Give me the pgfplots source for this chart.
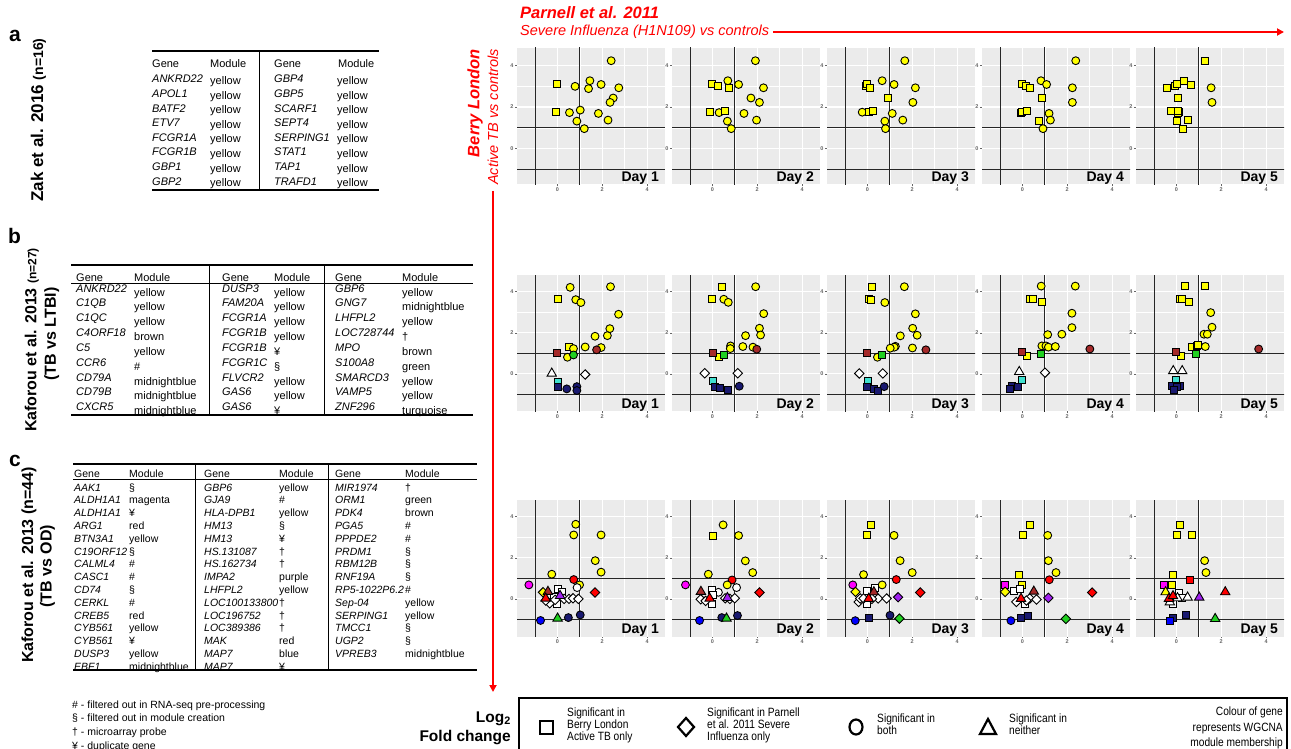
\documentclass[border=0pt]{standalone}
\usepackage{fontspec}
\setmainfont{Liberation Sans}
\newfontfamily\narrow[FakeStretch=0.85]{Liberation Sans}
\usepackage{pgfplots}
\usepackage{pgfplotstable}
\pgfplotsset{compat=1.18}
\usetikzlibrary{arrows.meta}

\definecolor{panelgray}{HTML}{EBEBEB}
\definecolor{cY}{HTML}{FFFF00}
\definecolor{cBr}{HTML}{A52A2A}
\definecolor{cG}{HTML}{20D020}
\definecolor{cT}{HTML}{40E0D0}
\definecolor{cN}{HTML}{191970}
\definecolor{cM}{HTML}{FF00FF}
\definecolor{cR}{HTML}{FF0000}
\definecolor{cB}{HTML}{0000FF}
\definecolor{cP}{HTML}{A020F0}

% fixed-size markers: square, circle, diamond, triangle
\pgfdeclareplotmark{Ssq}{%
  \pgfpathrectangle{\pgfqpoint{-3.5pt}{-3.5pt}}{\pgfqpoint{7pt}{7pt}}%
  \pgfusepathqfillstroke}
\pgfdeclareplotmark{Sci}{%
  \pgfpathcircle{\pgfpointorigin}{3.95pt}%
  \pgfusepathqfillstroke}
\pgfdeclareplotmark{Sdi}{%
  \pgfpathmoveto{\pgfqpoint{0pt}{4.7pt}}%
  \pgfpathlineto{\pgfqpoint{4.7pt}{0pt}}%
  \pgfpathlineto{\pgfqpoint{0pt}{-4.7pt}}%
  \pgfpathlineto{\pgfqpoint{-4.7pt}{0pt}}%
  \pgfpathclose
  \pgfusepathqfillstroke}
\pgfdeclareplotmark{Str}{%
  \pgfpathmoveto{\pgfqpoint{0pt}{5.2pt}}%
  \pgfpathlineto{\pgfqpoint{-4.7pt}{-2.9pt}}%
  \pgfpathlineto{\pgfqpoint{4.7pt}{-2.9pt}}%
  \pgfpathclose
  \pgfusepathqfillstroke}

\tikzset{
  msq/.style={mark=Ssq, draw=black, line width=0.9pt},
  mci/.style={mark=Sci, draw=black, line width=0.9pt},
  mdi/.style={mark=Sdi, draw=black, line width=0.9pt},
  mtr/.style={mark=Str, draw=black, line width=0.9pt},
  refl/.style={black!85, line width=0.8pt},
  daylab/.style={anchor=base east, inner sep=0pt, font=\bfseries\fontsize{14}{16}\selectfont},
  cell/.style={anchor=base west, inner sep=0pt, font=\fontsize{11}{13}\selectfont},
  cellc/.style={anchor=base west, inner sep=0pt, font=\fontsize{10.5}{12}\selectfont},
  leg/.style={anchor=base west, inner sep=0pt, font=\narrow\fontsize{12}{13}\selectfont},
}

\pgfplotsset{
  panel/.style={
    scale only axis, width=148pt, height=136.5pt,
    xmin=-1.8, xmax=4.8,
    axis background/.style={fill=panelgray},
    axis line style={draw=none},
    xtick={0,2,4}, ytick={0,2,4},
    minor xtick={-1,1,3}, minor ytick={-1,1,3},
    grid=both,
    major grid style={white, line width=1.1pt},
    minor grid style={white, line width=0.55pt},
    tick pos=left, tick align=outside,
    major tick length=1.8pt, minor tick length=0pt,
    tick style={black!60, line width=0.4pt},
    /pgf/number format/assume math mode=true,
    ticklabel style={font=\bfseries\fontsize{5.5}{6}\selectfont, text=black!60, inner sep=1.5pt},
  },
  pts/.style={
    scatter, only marks, scatter src=explicit symbolic,
    scatter/classes={
      ys={msq, fill=cY}, yc={mci, fill=cY}, yd={mdi, fill=cY}, yt={mtr, fill=cY},
      bs={msq, fill=cBr}, bc={mci, fill=cBr}, bt={mtr, fill=cBr},
      gs={msq, fill=cG}, gc={mci, fill=cG}, gd={mdi, fill=cG}, gt={mtr, fill=cG},
      ws={msq, fill=white}, wc={mci, fill=white}, wd={mdi, fill=white}, wt={mtr, fill=white},
      ts={msq, fill=cT},
      ns={msq, fill=cN}, nc={mci, fill=cN},
      ms={msq, fill=cM}, mc={mci, fill=cM},
      rs={msq, fill=cR}, rc={mci, fill=cR}, rd={mdi, fill=cR}, rt={mtr, fill=cR},
      pt={mtr, fill=cP}, pd={mdi, fill=cP},
      Bc={mci, fill=cB}, Bs={msq, fill=cB}
    },
  },
}

\newcommand{\reflines}{%
  \draw[refl] (axis cs:-1,-3) -- (axis cs:-1,6);
  \draw[refl] (axis cs:1,-3) -- (axis cs:1,6);
  \draw[refl] (axis cs:-3,-1) -- (axis cs:6,-1);
  \draw[refl] (axis cs:-3,1) -- (axis cs:6,1);}

% #1 left, #2 top, #3 ymin, #4 ymax, #5 day, #6 data table
\newcommand{\panel}[6]{%
  \begin{axis}[panel, at={(#1pt,-#2pt)}, anchor=north west, ymin=#3, ymax=#4]
    \reflines
    \addplot[pts] table[meta=c] {#6};
    \node[daylab] at (rel axis cs:0.96,0.022) {Day #5};
  \end{axis}}

% ---------- Zak et al. 2016 signature ----------
\pgfplotstableread{
x y c
0 3.10 ys
-0.06 1.75 ys
0.79 2.99 yc
1.45 3.26 yc
1.39 2.88 yc
1.95 3.08 yc
2.40 4.22 yc
2.74 2.92 yc
2.49 2.43 yc
2.35 2.22 yc
0.54 1.73 yc
1.02 1.85 yc
1.83 1.69 yc
2.26 1.37 yc
0.87 1.32 yc
1.20 0.96 yc
}\dAa
\pgfplotstableread{
x y c
0 3.10 ys
0.25 3.00 ys
0.75 2.89 ys
0.69 3.26 yc
1.17 3.08 yc
1.92 4.22 yc
2.28 2.92 yc
1.72 2.43 yc
2.10 2.22 yc
-0.13 1.75 ys
0.30 1.73 yc
0.57 1.83 ys
1.41 1.69 yc
1.97 1.37 yc
0.67 1.32 yc
0.84 0.96 yc
}\dAb
\pgfplotstableread{
x y c
-0.05 3.02 ys
0 3.10 ys
0.11 2.89 ys
0.66 3.26 yc
1.19 3.08 yc
1.67 4.22 yc
2.14 2.92 yc
0.93 2.43 ys
2.03 2.22 yc
-0.23 1.75 yc
0.08 1.75 ys
0.23 1.83 ys
1.11 1.69 yc
1.58 1.37 yc
0.78 1.32 yc
0.81 0.96 yc
}\dAc
\pgfplotstableread{
x y c
0 3.10 ys
0.15 3.00 ys
0.32 2.89 ys
0.83 3.26 yc
1.08 3.08 yc
2.38 4.22 yc
2.23 2.92 yc
0.86 2.43 ys
2.23 2.22 yc
-0.06 1.73 ys
-0.02 1.75 ys
0.20 1.83 ys
1.19 1.69 yc
1.25 1.37 yc
0.75 1.32 ys
0.92 0.96 yc
}\dAd
\pgfplotstableread{
x y c
1.29 4.22 ys
-0.05 3.00 ys
0.02 3.10 ys
-0.42 2.89 ys
0.32 3.26 ys
0.65 3.08 ys
1.55 2.92 yc
1.59 2.22 yc
0.06 2.43 ys
-0.26 1.83 ys
0.11 1.75 ys
0.08 1.69 ys
0.53 1.37 ys
0.03 1.32 ys
0.29 0.96 ys
0.05 1.82 ys
}\dAe

% ---------- Kaforou et al. 2013, TB vs LTBI ----------
\pgfplotstableread{
x y c
0.57 4.21 yc
2.37 4.24 yc
0.04 3.63 ys
0.82 3.61 yc
1.05 3.47 yc
2.73 2.90 yc
2.34 2.20 yc
2.23 1.86 yc
1.68 1.83 yc
0.52 1.33 ys
0.72 1.23 yc
1.24 1.31 yc
1.95 1.28 yc
0.45 0.81 yc
0 1.00 bs
1.75 1.17 bc
0.72 0.92 gc
-0.25 0.03 wt
1.24 -0.03 wd
0.01 -0.37 ts
0.03 -0.65 ns
0.42 -0.73 nc
0.87 -0.62 nc
0.87 -0.81 nc
}\dBa
\pgfplotstableread{
x y c
0.43 4.24 ys
1.93 4.24 yc
0 3.63 ys
0.51 3.63 yc
0.71 3.48 yc
2.29 2.93 yc
2.10 2.22 yc
2.15 1.89 yc
1.48 1.86 yc
0.81 1.36 yc
0.80 1.23 yc
1.36 1.33 yc
1.81 1.30 yc
0.28 0.84 ys
0.02 1.04 bs
1.98 1.20 bc
0.52 0.94 gs
-0.34 0.03 wd
1.13 0.03 wd
0.02 -0.36 ts
0.11 -0.62 ns
0.35 -0.68 ns
0.71 -0.78 ns
1.20 -0.60 nc
}\dBb
\pgfplotstableread{
x y c
0.20 4.21 ys
1.65 4.24 yc
0.05 3.63 ys
0.15 3.61 ys
0.78 3.47 yc
2.14 2.92 yc
2.02 2.22 yc
2.22 1.88 yc
1.47 1.85 yc
1.25 1.34 yc
1.20 1.30 yc
1.02 1.25 yc
2.01 1.26 yc
0.45 0.81 yc
0 1.00 bs
2.61 1.17 bc
0.64 0.92 gs
-0.36 0.02 wd
0.69 0.02 wd
0.02 -0.36 ts
-0.03 -0.65 ns
0.30 -0.71 ns
0.45 -0.81 ns
0.75 -0.62 nc
}\dBc
\pgfplotstableread{
x y c
0.84 4.27 yc
2.36 4.27 yc
0.33 3.64 ys
0.48 3.64 ys
0.86 3.48 ys
2.21 2.95 yc
2.21 2.25 yc
1.13 1.91 yc
1.76 1.93 yc
0.87 1.36 yc
1.05 1.36 yc
1.16 1.30 yc
1.47 1.33 yc
0.20 0.86 ys
0 1.07 bs
3.01 1.21 bc
0.81 0.97 gs
-0.14 0.11 wt
1.01 0.06 wd
0 -0.29 ts
-0.48 -0.58 ns
-0.21 -0.65 ns
-0.54 -0.74 ns
}\dBd
\pgfplotstableread{
x y c
0.38 4.27 ys
1.29 4.27 ys
0.17 3.66 ys
0.24 3.64 ys
0.54 3.51 ys
1.53 2.98 yc
1.59 2.27 yc
1.23 1.93 yc
1.38 1.93 yc
1.29 1.33 yc
0.69 1.33 ys
0.90 1.38 ys
0.98 1.39 ys
0.21 0.87 ys
0 1.07 bs
3.67 1.21 bc
0.89 0.97 gs
-0.14 0.15 wt
0.26 0.15 wt
0 -0.29 ts
-0.21 -0.58 ns
0.17 -0.58 ns
0.03 -0.65 ns
-0.12 -0.78 ns
}\dBe

% ---------- Kaforou et al. 2013, TB vs OD ----------
\pgfplotstableread{
x y c
0.82 3.63 yc
0.73 3.11 yc
1.95 3.11 yc
1.69 1.86 yc
1.95 1.30 yc
-0.25 1.20 yc
0.73 0.94 rc
0.99 0.68 yc
0.88 0.55 wc
-1.27 0.68 mc
-0.64 0.32 yd
0.04 0.47 ws
0.19 0.32 ws
-0.03 -0.26 ws
-0.15 0.10 ws
-0.34 -0.21 wd
-0.10 -0.05 wd
0.30 0.00 wd
0.52 0.00 wd
0.70 0.03 wd
0.94 0.00 wd
-0.52 -0.08 wd
-0.42 0.36 bt
-0.52 0.03 rt
0.12 0.16 pt
1.68 0.31 rd
-0.75 -1.05 Bc
0.01 -0.94 gt
0.49 -0.91 nc
1.02 -0.78 nc
}\dCa
\pgfplotstableread{
x y c
0.03 3.08 ys
0.48 3.60 yc
1.17 3.08 yc
1.47 1.85 yc
1.80 1.28 yc
-0.18 1.20 yc
0.88 0.92 rc
0.66 0.68 yc
1.08 0.55 wc
-1.20 0.68 mc
0.27 0.32 wc
-0.03 0.44 ws
-0.03 -0.26 ws
0.03 0.19 ws
-0.52 -0.02 wd
-0.30 -0.10 wd
0.57 0.03 wd
0.78 0.00 wd
1.00 0.03 wd
-0.51 0.36 bt
-0.12 0.03 rt
2.10 0.31 rd
0.67 0.06 pt
-0.57 -1.05 Bc
0.42 -0.91 nc
0.63 -0.94 gt
1.12 -0.81 nc
}\dCb
\pgfplotstableread{
x y c
0.14 3.61 ys
0 3.09 ys
1.19 3.09 yc
1.46 1.86 yc
2.00 1.28 yc
-0.17 1.18 yc
1.29 0.94 rc
0.66 0.68 yc
-0.65 0.68 mc
-0.53 0.34 yd
0 0.40 ws
0 -0.23 ws
0.32 0.53 ws
-0.39 -0.15 wd
-0.32 0.02 wd
-0.17 0.02 wd
0.48 0.02 wd
0.86 0.02 wd
0.20 0.00 wd
0.29 0.34 bt
0.06 0.02 rt
1.37 0.08 pd
2.36 0.31 rd
1.43 -0.96 gd
-0.54 -1.06 Bc
0.09 -0.93 ns
1.01 -0.80 nc
}\dCc
\pgfplotstableread{
x y c
0.36 3.61 ys
0.03 3.09 ys
1.13 3.09 yc
1.16 1.86 yc
1.50 1.28 yc
-0.15 1.18 ys
1.20 0.93 rc
-0.03 0.70 ys
-0.78 0.66 ms
-0.77 0.34 yd
-0.39 0.37 ws
-0.12 0.50 ws
0.11 -0.24 ws
-0.27 -0.15 wd
0.33 0.02 wd
0.63 -0.03 wd
0.18 -0.08 wd
-0.06 0.02 rt
0.51 0.37 bt
1.16 0.05 pd
3.11 0.31 rd
1.94 -0.97 gd
-0.51 -1.06 Bc
-0.06 -0.93 ns
0.24 -0.83 ns
}\dCd
\pgfplotstableread{
x y c
0.17 3.61 ys
0.02 3.09 ys
0.68 3.09 ys
1.26 1.86 yc
1.32 1.28 yc
-0.15 1.18 ys
0.62 0.93 rs
-0.21 0.70 ys
-0.56 0.66 ms
-0.48 0.34 yt
-0.15 -0.23 ws
0.12 0.29 ws
0.27 0.05 ws
-0.29 -0.15 wt
0.05 0.05 wt
0.50 0.08 wt
-0.33 0.02 rt
-0.15 0.15 rt
1.02 0.08 pt
2.18 0.34 rt
1.73 -0.96 gt
0.42 -0.80 ns
-0.14 -0.93 ns
-0.29 -1.06 Bs
}\dCe

\begin{document}
\begin{tikzpicture}
\path[use as bounding box] (0,0) rectangle (1291pt,-749pt);

% ---------------- scatter panels ----------------
\panel{517}{48}{-1.72}{4.83}{1}{\dAa}
\panel{672}{48}{-1.72}{4.83}{2}{\dAb}
\panel{827}{48}{-1.72}{4.83}{3}{\dAc}
\panel{982}{48}{-1.72}{4.83}{4}{\dAd}
\panel{1136}{48}{-1.72}{4.83}{5}{\dAe}

\panel{517}{275}{-1.83}{4.81}{1}{\dBa}
\panel{672}{275}{-1.83}{4.81}{2}{\dBb}
\panel{827}{275}{-1.83}{4.81}{3}{\dBc}
\panel{982}{275}{-1.83}{4.81}{4}{\dBd}
\panel{1136}{275}{-1.83}{4.81}{5}{\dBe}

\panel{517}{500}{-1.83}{4.81}{1}{\dCa}
\panel{672}{500}{-1.83}{4.81}{2}{\dCb}
\panel{827}{500}{-1.83}{4.81}{3}{\dCc}
\panel{982}{500}{-1.83}{4.81}{4}{\dCd}
\panel{1136}{500}{-1.83}{4.81}{5}{\dCe}

\begin{scope}[x=1pt, y=-1pt]
% ---------------- headers in red ----------------
\node[anchor=west, inner sep=0pt, text=red, font=\bfseries\itshape\fontsize{16.5}{18}\selectfont] at (520,13) {Parnell et al. 2011};
\node[anchor=west, inner sep=0pt, text=red, font=\itshape\fontsize{14.5}{16}\selectfont] at (520,32) {Severe Influenza (H1N109) vs controls};
\draw[red, line width=2.5pt, -{Triangle[length=7pt,width=7pt]}] (773,32) -- (1284,32);
\node[rotate=90, inner sep=0pt, text=red, font=\bfseries\itshape\fontsize{16.5}{18}\selectfont] at (475,103) {Berry London};
\node[rotate=90, inner sep=0pt, text=red, font=\itshape\fontsize{14.5}{16}\selectfont] at (493,117) {Active TB vs controls};
\draw[red, line width=2.5pt, -{Triangle[length=7pt,width=7pt]}] (493,191) -- (493,692);

% ---------------- panel letters and row titles ----------------
\node[anchor=base west, inner sep=0pt, font=\bfseries\fontsize{21}{24}\selectfont] at (9,42) {a};
\node[anchor=base west, inner sep=0pt, font=\bfseries\fontsize{21}{24}\selectfont] at (8,243) {b};
\node[anchor=base west, inner sep=0pt, font=\bfseries\fontsize{21}{24}\selectfont] at (9,466) {c};
\node[rotate=90, inner sep=0pt, font=\bfseries\fontsize{17}{19}\selectfont] at (38.5,120) {Zak et al. 2016 {\fontsize{14}{16}\selectfont(n=16)}};
\node[rotate=90, inner sep=0pt, font=\bfseries\fontsize{16}{18}\selectfont] at (31.7,340) {Kaforou et al. 2013 {\fontsize{12}{14}\selectfont(n=27)}};
\node[rotate=90, inner sep=0pt, font=\bfseries\fontsize{16}{18}\selectfont] at (51.7,334) {(TB vs LTBI)};
\node[rotate=90, inner sep=0pt, font=\bfseries\fontsize{16}{18}\selectfont] at (29,565) {Kaforou et al. 2013 (n=44)};
\node[rotate=90, inner sep=0pt, font=\bfseries\fontsize{16}{18}\selectfont] at (47.5,566) {(TB vs OD)};

% ---------------- table a ----------------
\draw[line width=1.3pt] (152,51) -- (379,51);
\draw[line width=1.3pt] (152,190) -- (379,190);
\draw[line width=1pt] (259,51) -- (259,190);
\node[cell] at (152,68) {Gene};
\node[cell] at (210,68) {Module};
\node[cell] at (274,68) {Gene};
\node[cell] at (338,68) {Module};
\foreach \g/\m [count=\i from 0] in {ANKRD22/yellow,APOL1/yellow,BATF2/yellow,ETV7/yellow,FCGR1A/yellow,FCGR1B/yellow,GBP1/yellow,GBP2/yellow}{
  \node[cell] at (152,{83+14.6*\i}) {\itshape\g};
  \node[cell] at (210,{84.5+14.6*\i}) {\m};
}
\foreach \g/\m [count=\i from 0] in {GBP4/yellow,GBP5/yellow,SCARF1/yellow,SEPT4/yellow,SERPING1/yellow,STAT1/yellow,TAP1/yellow,TRAFD1/yellow}{
  \node[cell] at (274,{83+14.6*\i}) {\itshape\g};
  \node[cell] at (337,{84.5+14.6*\i}) {\m};
}

% ---------------- table b ----------------
\draw[line width=1.3pt] (71,265) -- (473,265);
\draw[line width=0.7pt] (71,283.5) -- (473,283.5);
\draw[line width=1.3pt] (71,415) -- (473,415);
\draw[line width=1pt] (209,265) -- (209,415);
\draw[line width=1pt] (324,265) -- (324,415);
\foreach \x/\t in {76/Gene,134/Module,222/Gene,274/Module,335/Gene,402/Module}{
  \node[cell] at (\x,281) {\t};
}
\foreach \g/\m [count=\i from 0] in {ANKRD22/yellow,C1QB/yellow,C1QC/yellow,C4ORF18/brown,C5/yellow,CCR6/\#,CD79A/midnightblue,CD79B/midnightblue,CXCR5/midnightblue}{
  \node[cell] at (76,{292+14.85*\i}) {\itshape\g};
  \node[cell] at (134,{296+14.85*\i}) {\m};
}
\foreach \g/\m [count=\i from 0] in {DUSP3/yellow,FAM20A/yellow,FCGR1A/yellow,FCGR1B/yellow,FCGR1B/¥,FCGR1C/§,FLVCR2/yellow,GAS6/yellow,GAS6/¥}{
  \node[cell] at (222,{292+14.85*\i}) {\itshape\g};
  \node[cell] at (274,{296+14.85*\i}) {\m};
}
\foreach \g/\m [count=\i from 0] in {GBP6/yellow,GNG7/midnightblue,LHFPL2/yellow,LOC728744/†,MPO/brown,S100A8/green,SMARCD3/yellow,VAMP5/yellow,ZNF296/turquoise}{
  \node[cell] at (335,{292+14.85*\i}) {\itshape\g};
  \node[cell] at (402,{296+14.85*\i}) {\m};
}

% ---------------- table c ----------------
\draw[line width=1.3pt] (73,464) -- (477,464);
\draw[line width=0.7pt] (73,479) -- (477,479);
\draw[line width=1.3pt] (73,670) -- (477,670);
\draw[line width=1pt] (195,464) -- (195,670);
\draw[line width=1pt] (328,464) -- (328,670);
\foreach \x/\t in {74/Gene,129/Module,204/Gene,279/Module,335/Gene,405/Module}{
  \node[cellc] at (\x,477.5) {\t};
}
\foreach \g/\m [count=\i from 0] in {AAK1/§,ALDH1A1/magenta,ALDH1A1/¥,ARG1/red,BTN3A1/yellow,C19ORF12/§,CALML4/\#,CASC1/\#,CD74/§,CERKL/\#,CREB5/red,CYB561/yellow,CYB561/¥,DUSP3/yellow,EBF1/midnightblue}{
  \node[cellc] at (74,{491+12.8*\i}) {\itshape\g};
  \node[cellc] at (129,{491+12.8*\i}) {\m};
}
\foreach \g/\m [count=\i from 0] in {GBP6/yellow,GJA9/\#,HLA-DPB1/yellow,HM13/§,HM13/¥,HS.131087/†,HS.162734/†,IMPA2/purple,LHFPL2/yellow,LOC100133800/†,LOC196752/†,LOC389386/†,MAK/red,MAP7/blue,MAP7/¥}{
  \node[cellc] at (204,{491+12.8*\i}) {\itshape\g};
  \node[cellc] at (279,{491+12.8*\i}) {\m};
}
\foreach \g/\m [count=\i from 0] in {MIR1974/†,ORM1/green,PDK4/brown,PGA5/\#,PPPDE2/\#,PRDM1/§,RBM12B/§,RNF19A/§,RP5-1022P6.2/\#,Sep-04/yellow,SERPING1/yellow,TMCC1/§,UGP2/§,VPREB3/midnightblue}{
  \node[cellc] at (335,{491+12.8*\i}) {\itshape\g};
  \node[cellc] at (405,{491+12.8*\i}) {\m};
}

% ---------------- footnotes ----------------
\node[cellc] at (72,708) {\# - filtered out  in RNA-seq pre-processing};
\node[cellc] at (72,721.5) {§ - filtered out  in module  creation};
\node[cellc] at (72,735.5) {† - microarray probe};
\node[cellc] at (72,749) {¥ - duplicate  gene};

% ---------------- legend ----------------
\node[anchor=base east, inner sep=0pt, font=\bfseries\fontsize{15.5}{17}\selectfont] at (511,722) {Log\textsubscript{2}};
\node[anchor=base east, inner sep=0pt, font=\bfseries\fontsize{15.5}{17}\selectfont] at (511,741) {Fold change};
\draw[line width=1.2pt] (519,698) rectangle (1287,760);
\draw[line width=2.2pt] (540,721) rectangle (553,734);
\draw[line width=2.2pt] (686,718) -- (694,727) -- (686,736) -- (678,727) -- cycle;
\draw[line width=2.2pt] (856,727) ellipse [x radius=6.5pt, y radius=7.5pt];
\draw[line width=2.2pt, line join=miter] (988,719) -- (996,734) -- (980,734) -- cycle;
\node[leg] at (567,716) {Significant in};
\node[leg] at (567,728) {Berry London};
\node[leg] at (567,740) {Active TB only};
\node[leg] at (707,716) {Significant in Parnell};
\node[leg] at (707,728) {et al. 2011 Severe};
\node[leg] at (707,740) {Influenza only};
\node[leg] at (877,722) {Significant in};
\node[leg] at (877,734) {both};
\node[leg] at (1009,722) {Significant in};
\node[leg] at (1009,734) {neither};
\node[leg, anchor=base east] at (1283,715) {Colour of gene};
\node[leg, anchor=base east] at (1283,731) {represents WGCNA};
\node[leg, anchor=base east] at (1283,746) {module membership};
\end{scope}
\end{tikzpicture}
\end{document}
